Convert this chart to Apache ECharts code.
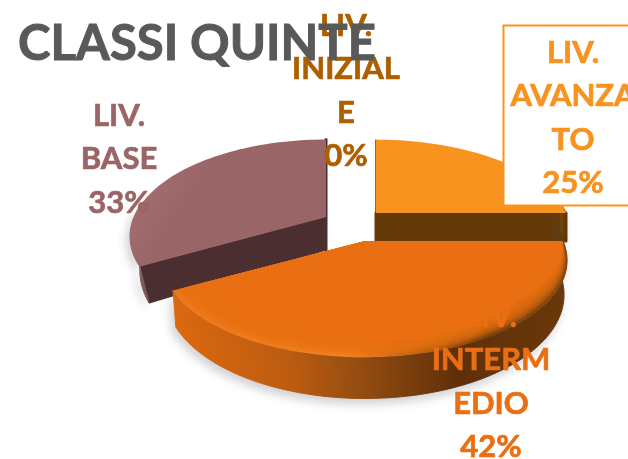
<!DOCTYPE html>
<html><head><meta charset="utf-8">
<style>html,body{margin:0;padding:0;background:#fff}#c{width:628px;height:459px}</style>
<script src="https://cdn.jsdelivr.net/npm/echarts@6/dist/echarts.min.js"></script>
</head><body><div id="c"></div>
<script>
const titleText = 'CLASSI QUINTE';
const levels = ['LIV. AVANZATO', 'LIV. INTERMEDIO', 'LIV. BASE', 'LIV. INIZIALE'];
const labelLines = [['LIV.','AVANZA','TO'], ['LIV.','INTERM','EDIO'], ['LIV.','BASE'], ['LIV.','INIZIAL','E']];
const shares = [25, 42, 33, 0];
const colors = ['#F7931E', '#E96F12', '#9A6566', '#AD5F00'];

const LG = echarts.graphic.LinearGradient;
const look = [
  {cx:376,cy:213,R:190,Rt:88,D:28,z:10,cut:'#653A08',inset:1,
   wall:new LG(0,0,1,0,[{offset:0,color:'#7a4608'},{offset:1,color:'#5c3306'}]),
   rim:'#F7931E',band:0,lab:[573,118],box:[503.5,25.5,160,180]},
  {cx:365,cy:241,R:198,Rt:93,D:33,z:30,cut:null,inset:.985,
   wall:new LG(0,0,1,0,[{offset:0,color:'#DD690F'},{offset:.3,color:'#BC5C10'},{offset:.5,color:'#8F4A10'},{offset:.72,color:'#5F3008'},{offset:1,color:'#6B3808'}]),
   rim:new LG(0,0,1,0,[{offset:0,color:'#EE781A'},{offset:.45,color:'#F2801F'},{offset:.62,color:'#C96410'},{offset:.8,color:'#7A420C'},{offset:1,color:'#8A4A0E'}]),
   band:.1,lab:[491,382]},
  {cx:326,cy:217,R:192,Rt:93,D:33,z:20,cut:'#4A2E30',inset:.95,
   wall:new LG(0,0,0,1,[{offset:0,color:'#A06C6D'},{offset:1,color:'#7A5458'}]),
   rim:new LG(0,0,1,1,[{offset:0,color:'#A97576'},{offset:.35,color:'#9A6566'},{offset:1,color:'#9A6566'}]),
   band:0,lab:[119,159]},
  {lab:[346,91],z:40}
];
const k = 0.2, rad = Math.PI/180;
function proj(g, a, r, drop){
  const u=Math.cos(a*rad)*r, v=Math.sin(a*rad)*r, s=1/(1-k*v);
  return [g.cx+g.R*u*s*(drop?g.inset:1), g.cy+g.Rt*v*s+(drop?g.D*s:0)];
}
function arc(g,a0,a1,rf,drop){
  const p=[], n=Math.max(2,Math.ceil(Math.abs(a1-a0)/2));
  for(let i=0;i<=n;i++){ const a=a0+(a1-a0)*i/n; p.push(proj(g,a,rf(a),drop)); }
  return p;
}
const one=()=>1;
function renderSlice(params, api){
  const i=params.dataIndex, g=look[i], val=api.value(1);
  const total=shares.reduce((x,y)=>x+y,0);
  let before=0; for(let j=0;j<i;j++) before+=shares[j];
  const a0=-90+before/total*360, a1=a0+val/total*360, ch=[];
  if(val>0){
    const apex=[g.cx,g.cy], apexD=[g.cx,g.cy+g.D];
    const face=(e,pts,style)=>ch.push({type:'polygon',z2:g.z+e,shape:{points:pts},style:style});
    // cut faces
    if(g.cut) [a0,a1].forEach((a,n)=>{
      face(1,[apex,proj(g,a,1,false),proj(g,a,1,true),apexD],
        {fill:g.cut,stroke:g.cut,lineWidth:n?3:1,lineJoin:'round'});
    });
    // outer wall
    const vis0=Math.max(a0,-6), vis1=Math.min(a1,186);
    if(vis1>vis0){
      const w=arc(g,vis0,vis1,one,false).concat(arc(g,vis1,vis0,one,true));
      face(2,w,{fill:g.wall,stroke:g.wall,lineWidth:1,lineJoin:'round',
        shadowColor:'rgba(70,70,90,0.25)',shadowBlur:10,shadowOffsetY:5,shadowOffsetX:-3});
    }
    // top face: rim colour, then soft steps towards the flat colour on the near side
    face(3,[apex].concat(arc(g,a0,a1,one,false)),{fill:g.rim});
    if(g.band>0){
      const steps=9;
      for(let s=0;s<steps;s++){
        const t=(s+1)/steps;
        const rf=a=>1-t*g.band*Math.min(1,Math.max(0,Math.sin(a*rad)*1.6))-0.004;
        face(4+s,[apex].concat(arc(g,a0,a1,rf,false)),{fill:colors[i],opacity:s===steps-1?1:0.3});
      }
    }
  }
  if(g.box){
    ch.push({type:'rect',z2:g.z+16,shape:{x:g.box[0],y:g.box[1],width:g.box[2],height:g.box[3]},
      style:{fill:'#fff',stroke:colors[0],lineWidth:2}});
  }
  const pct=Math.round(val/total*100)+'%';
  ch.push({type:'text',z2:100,x:g.lab[0],y:g.lab[1],style:{
    text:labelLines[i].concat(pct).join('\n'),fill:colors[i],stroke:colors[i],lineWidth:.7,
    font:'bold 31px Lato',lineHeight:43.5,align:'center',verticalAlign:'middle'}});
  return {type:'group',children:ch};
}
const chart=echarts.init(document.getElementById('c'),null,{renderer:'canvas'});
chart.setOption({
  animation:false,
  backgroundColor:'#fff',
  title:{text:titleText,left:13,top:15,z:6,textStyle:{fontFamily:'Lato',fontWeight:'bold',fontSize:49,color:'#595959',textBorderColor:'#595959',textBorderWidth:1}},
  series:[{type:'custom',coordinateSystem:'none',z:2,clip:false,renderItem:renderSlice,
    data:levels.map((n,i)=>({name:n,value:[i,shares[i]]}))}]
});
</script></body></html>
